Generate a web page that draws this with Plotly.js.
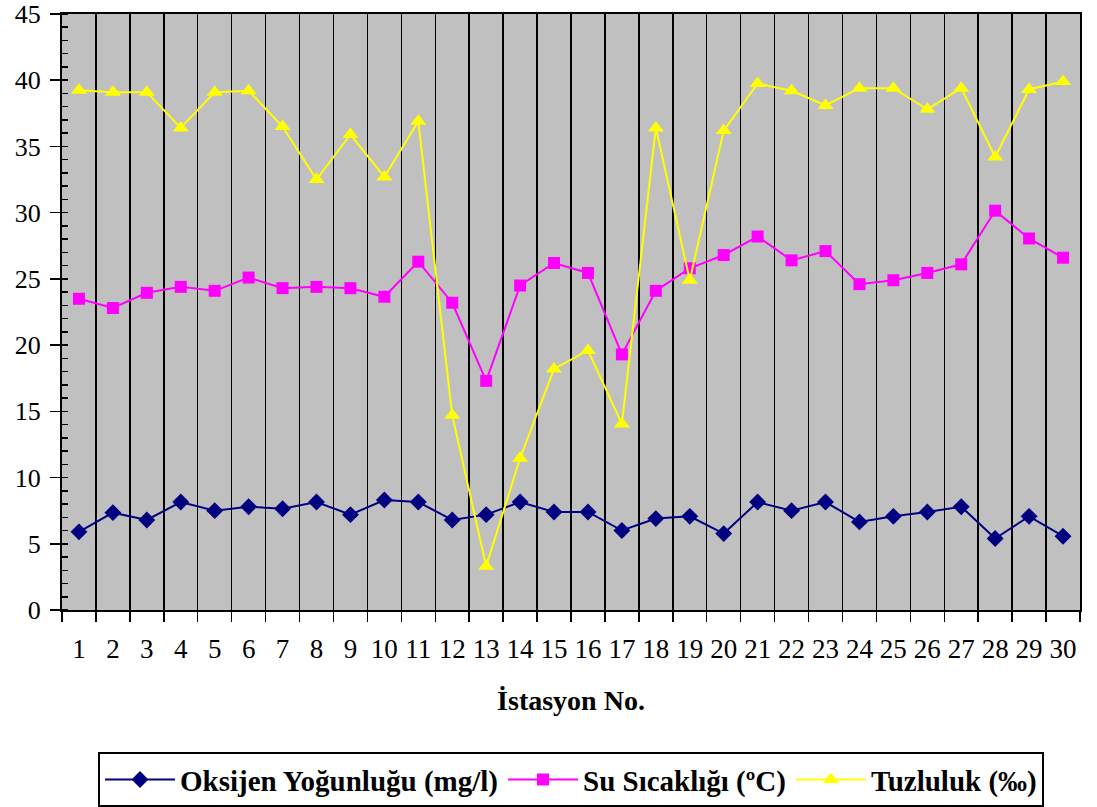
<!DOCTYPE html>
<html>
<head>
<meta charset="utf-8">
<script src="https://cdn.plot.ly/plotly-3.0.1.min.js"></script>
<style>html,body{margin:0;padding:0;background:#fff;}#chart{width:1097px;height:807px;}</style>
</head>
<body>
<div id="chart"></div>
<script>
const stations = ["1","2","3","4","5","6","7","8","9","10","11","12","13","14","15","16","17","18","19","20","21","22","23","24","25","26","27","28","29","30"];
const oksijen = [5.9,7.35,6.8,8.15,7.5,7.8,7.65,8.15,7.2,8.3,8.15,6.8,7.2,8.15,7.4,7.4,6.0,6.9,7.07,5.77,8.15,7.5,8.15,6.65,7.07,7.4,7.8,5.4,7.07,5.57];
const suSicakligi = [23.5,22.8,23.95,24.4,24.1,25.1,24.3,24.4,24.3,23.65,26.3,23.2,17.3,24.5,26.2,25.45,19.3,24.1,25.8,26.8,28.2,26.4,27.1,24.6,24.9,25.45,26.1,30.15,28.05,26.6];
const tuzluluk = [39.25,39.1,39.1,36.4,39.1,39.2,36.5,32.5,35.9,32.7,36.9,14.7,3.3,11.46,18.2,19.6,14.05,36.4,24.9,36.2,39.75,39.2,38.1,39.4,39.4,37.8,39.4,34.2,39.3,39.9];
const seriesNames = ["Oksijen Yoğunluğu (mg/l)","Su Sıcaklığı (ºC)","Tuzluluk (‰)"];
const yTicks = [0,5,10,15,20,25,30,35,40,45];

const font = "Liberation Serif, Times New Roman, serif";
const traces = [
  {x: stations, y: oksijen, name: seriesNames[0], type: "scatter", mode: "lines+markers",
   line: {color: "#000080", width: 2}, marker: {symbol: "diamond", size: 13, color: "#000080"}},
  {x: stations, y: suSicakligi, name: seriesNames[1], type: "scatter", mode: "lines+markers",
   line: {color: "#FF00FF", width: 2}, marker: {symbol: "square", size: 12, color: "#FF00FF"}},
  {x: stations, y: tuzluluk, name: seriesNames[2], type: "scatter", mode: "lines+markers",
   line: {color: "#FFFF00", width: 2}, marker: {symbol: "triangle-up", size: 14, color: "#FFFF00"}}
];
const layout = {
  width: 1097, height: 807,
  margin: {l: 62, r: 17, t: 14, b: 197},
  paper_bgcolor: "#ffffff",
  plot_bgcolor: "#C0C0C0",
  font: {family: font, size: 26, color: "#000"},
  showlegend: true,
  xaxis: {
    type: "category", range: [-0.5, 29.5], tickson: "boundaries",
    showgrid: true, gridcolor: "#000", gridwidth: 1.5,
    showline: true, linecolor: "#000", linewidth: 2, mirror: true,
    ticks: "outside", ticklen: 10, tickwidth: 1.5, tickcolor: "#000",
    tickfont: {family: font, size: 27}, tickangle: 0, ticklabelstandoff: 14,
    zeroline: false, automargin: false,
    title: {text: "İstasyon No.", font: {family: font, size: 28, weight: "bold"}, standoff: 27}
  },
  yaxis: {
    range: [0, 45], tickvals: yTicks, ticktext: yTicks.map(String),
    ticklabeloverflow: "allow", ticklabelstandoff: 4,
    showgrid: false, zeroline: false,
    showline: true, linecolor: "#000", linewidth: 2, mirror: true,
    ticks: "outside", ticklen: 10, tickwidth: 1.5, tickcolor: "#000",
    tickfont: {family: font, size: 26},
    minor: {ticks: "inside", dtick: 1, ticklen: 6, tickwidth: 1.5, tickcolor: "#000", showgrid: false},
    automargin: false
  },
  legend: {
    orientation: "h", x: 0.5, xanchor: "center",
    yref: "container", y: 0.068, yanchor: "top",
    bordercolor: "#000", borderwidth: 2, bgcolor: "#fff",
    font: {family: font, size: 29, weight: "bold", color: "#000"},
    itemwidth: 70, tracegroupgap: 0
  }
};
Plotly.newPlot("chart", traces, layout, {displayModeBar: false, staticPlot: true});
</script>
</body>
</html>
